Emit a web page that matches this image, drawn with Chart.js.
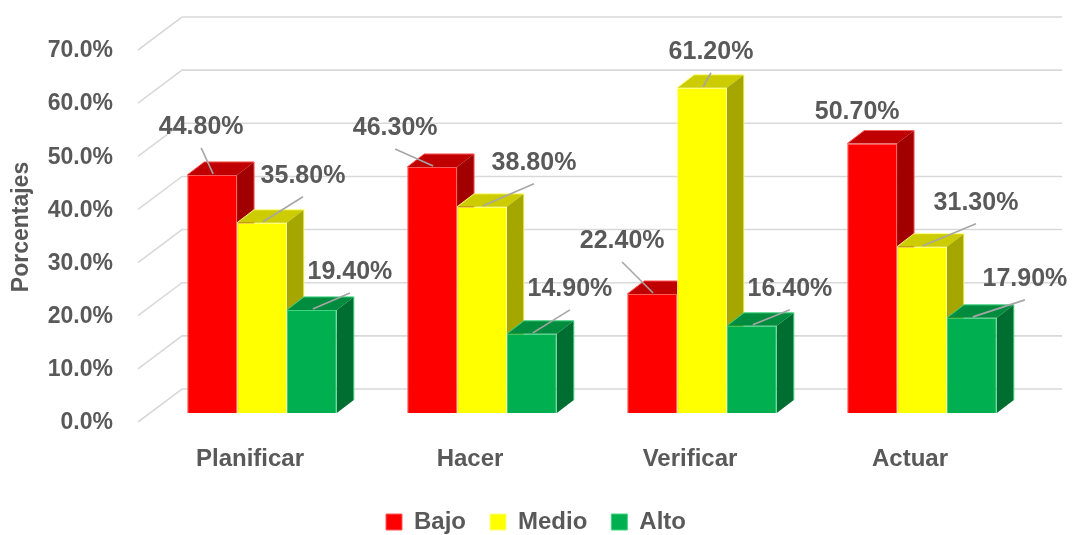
<!DOCTYPE html>
<html>
<head>
<meta charset="utf-8">
<script src="https://cdn.jsdelivr.net/npm/chart.js@4.4.1/dist/chart.umd.min.js"></script>
<style>
  html, body { margin: 0; padding: 0; background: #fff; }
  #wrap { width: 1073px; height: 535px; }
</style>
</head>
<body>
<div id="wrap"><canvas id="c" width="1073" height="535"></canvas></div>
<script>
// values (percent)
const categories = ['Planificar', 'Hacer', 'Verificar', 'Actuar'];
const bajo  = [44.8, 46.3, 22.4, 50.7];
const medio = [35.8, 38.8, 61.2, 31.3];
const alto  = [19.4, 14.9, 16.4, 17.9];
const seriesNames = ['Bajo', 'Medio', 'Alto'];

// where each data label sits, relative to the bar top (px)
const bajoLabelPos  = [[-11, -48], [-37, -39], [-30, -53], [-15, -31]];
const medioLabelPos = [[41, -47], [52, -44], [9, -36], [54, -44]];
const altoLabelPos  = [[38, -38], [38, -45], [38, -37], [53, -39]];

const TEXT = '#595959';
const FONT = "'Liberation Sans', Arial, sans-serif";
const faces = [
  { front: '#FF0000', edge: '#FF5a5a', top: '#C00000', side: '#A20000' },
  { front: '#FFFF00', edge: '#FFFF80', top: '#CCCC00', side: '#A6A600' },
  { front: '#00B050', edge: '#3fd47f', top: '#008C3E', side: '#006E30' }
];
const DEPTH = { dx: 17, dy: -13 };      // bar depth
const BACK = { dx: 30, dy: -24 };       // back wall from bar plane
const FRONT = { dx: -14, dy: 9 };       // front edge of the side wall

const wall3d = {
  id: 'wall3d',
  beforeDatasetsDraw(chart) {
    const { ctx, chartArea: a, scales: { y } } = chart;
    ctx.save();
    ctx.strokeStyle = '#D9D9D9';
    ctx.lineWidth = 1.6;
    y.ticks.forEach(t => {
      const py = y.getPixelForValue(t.value);
      ctx.beginPath();
      ctx.moveTo(a.left + FRONT.dx, py + FRONT.dy);
      ctx.lineTo(a.left + BACK.dx, py + BACK.dy);
      ctx.lineTo(a.right + BACK.dx, py + BACK.dy);
      ctx.stroke();
    });
    // tops and sides, left to right, so the next front face covers them
    const metas = chart.data.datasets.map((d, i) => chart.getDatasetMeta(i));
    for (let c = 0; c < categories.length; c++) {
      metas.forEach((meta, di) => {
        const b = meta.data[c];
        const f = faces[di];
        const l = b.x - b.width / 2, r = b.x + b.width / 2;
        ctx.fillStyle = f.top;
        ctx.beginPath();
        ctx.moveTo(l, b.y); ctx.lineTo(r, b.y);
        ctx.lineTo(r + DEPTH.dx, b.y + DEPTH.dy); ctx.lineTo(l + DEPTH.dx, b.y + DEPTH.dy);
        ctx.closePath(); ctx.fill();
        ctx.fillStyle = f.side;
        ctx.beginPath();
        ctx.moveTo(r, b.y); ctx.lineTo(r + DEPTH.dx, b.y + DEPTH.dy);
        ctx.lineTo(r + DEPTH.dx, b.base + DEPTH.dy); ctx.lineTo(r, b.base);
        ctx.closePath(); ctx.fill();
        ctx.strokeStyle = f.edge; ctx.lineWidth = 1;
        ctx.beginPath();
        ctx.moveTo(l, b.y); ctx.lineTo(l + DEPTH.dx, b.y + DEPTH.dy);
        ctx.lineTo(r + DEPTH.dx, b.y + DEPTH.dy); ctx.lineTo(r + DEPTH.dx, b.base + DEPTH.dy);
        ctx.stroke();
      });
    }
    ctx.restore();
  }
};

const labelPos = [bajoLabelPos, medioLabelPos, altoLabelPos];
const dataLabels = {
  id: 'dataLabels',
  afterDatasetsDraw(chart) {
    const { ctx } = chart;
    ctx.save();
    chart.data.datasets.forEach((ds, di) => {
      chart.getDatasetMeta(di).data.forEach((b, i) => {
        const [ox, oy] = labelPos[di][i];
        const lx = b.x + ox, ly = b.y + oy;
        if (oy < -33) {
          ctx.strokeStyle = '#A6A6A6';
          ctx.lineWidth = 1.6;
          ctx.beginPath();
          ctx.moveTo(lx, ly + 21);
          ctx.lineTo(b.x + 1, b.y - 1);
          ctx.stroke();
        }
        ctx.fillStyle = TEXT;
        ctx.font = 'bold 25px ' + FONT;
        ctx.textAlign = 'center';
        ctx.textBaseline = 'middle';
        ctx.fillText(ds.data[i].toFixed(2) + '%', lx, ly);
      });
    });
    ctx.restore();
  }
};

// the legend sits a little right of the plot centre in the original
const legendShift = {
  id: 'legendShift',
  afterLayout(chart) {
    chart.legend.left += 18;
    chart.legend.right += 18;
  }
};

const datasets = [bajo, medio, alto].map((vals, i) => ({
  label: seriesNames[i],
  data: vals,
  backgroundColor: faces[i].front,
  borderColor: faces[i].edge,
  borderWidth: 1,
  categoryPercentage: 0.68,
  barPercentage: 1.0
}));

new Chart(document.getElementById('c'), {
  type: 'bar',
  data: { labels: categories, datasets },
  plugins: [wall3d, dataLabels, legendShift],
  options: {
    responsive: false,
    animation: false,
    layout: { padding: { top: 41, right: 41, bottom: -9, left: 4 } },
    scales: {
      x: {
        grid: { display: false, drawTicks: false },
        border: { display: false },
        afterFit: s => { s.height = 73; },
        ticks: {
          color: TEXT, padding: 32, labelOffset: -12,
          font: { family: FONT, size: 24, weight: 'bold' }
        }
      },
      y: {
        min: 0, max: 70,
        grid: { display: false, drawTicks: false },
        border: { display: false },
        // wide tick padding would otherwise push the plot top down
        afterFit: s => { s.width = 148; s.paddingTop = 24; s.paddingBottom = 4; },
        title: {
          display: true, text: 'Porcentajes', color: TEXT,
          font: { family: FONT, size: 23, weight: 'bold' }
        },
        ticks: {
          stepSize: 10, color: TEXT, padding: 39, labelOffset: 10,
          font: { family: FONT, size: 23, weight: 'bold' },
          callback: v => v.toFixed(1) + '%'
        }
      }
    },
    plugins: {
      tooltip: { enabled: false },
      legend: {
        position: 'bottom',
        labels: {
          color: TEXT, boxWidth: 16, boxHeight: 16, padding: 24,
          font: { family: FONT, size: 24, weight: 'bold' }
        }
      }
    }
  }
});
</script>
</body>
</html>
